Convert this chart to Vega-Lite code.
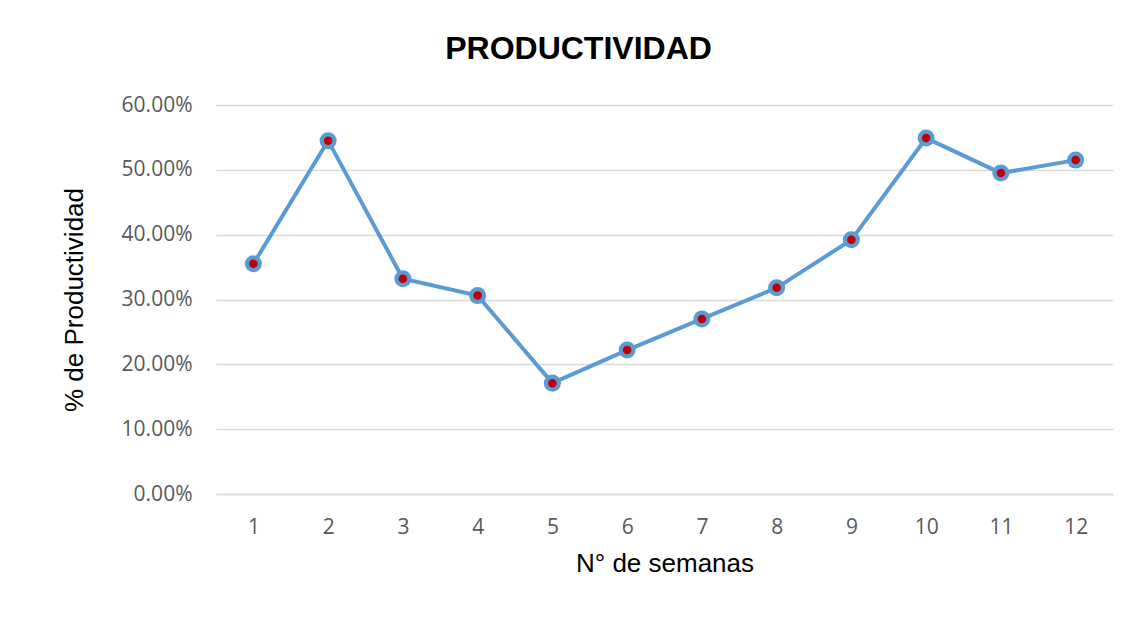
{
  "$schema": "https://vega.github.io/schema/vega-lite/v6.json",
  "autosize": "none",
  "width": 897,
  "height": 389,
  "padding": {"left": 216, "top": 105, "right": 24, "bottom": 126},
  "background": "white",
  "config": {"view": {"stroke": null}, "font": "Liberation Sans"},
  "title": {"text": "PRODUCTIVIDAD", "fontSize": 32, "fontWeight": "bold", "color": "#000000", "font": "Liberation Sans", "offset": 28, "dx": -86, "anchor": "middle"},
  "data": {"values": [
    {"semana": "1", "productividad": 0.355},
    {"semana": "2", "productividad": 0.545},
    {"semana": "3", "productividad": 0.332},
    {"semana": "4", "productividad": 0.306},
    {"semana": "5", "productividad": 0.171},
    {"semana": "6", "productividad": 0.222},
    {"semana": "7", "productividad": 0.270},
    {"semana": "8", "productividad": 0.318},
    {"semana": "9", "productividad": 0.392},
    {"semana": "10", "productividad": 0.549},
    {"semana": "11", "productividad": 0.495},
    {"semana": "12", "productividad": 0.515}
  ]},
  "encoding": {
    "x": {"field": "semana", "type": "ordinal", "sort": null,
      "scale": {"type": "point", "padding": 0.5},
      "axis": {"title": "N° de semanas", "labelAngle": 0, "labelFontSize": 21, "labelColor": "#595959", "labelFont": "Open Sans", "labelPadding": 22, "ticks": false, "domain": true, "domainColor": "#d9d9d9", "domainWidth": 1.5, "grid": false, "titleFontSize": 26, "titleFontWeight": "normal", "titleColor": "#000000", "titlePadding": 13}},
    "y": {"field": "productividad", "type": "quantitative",
      "scale": {"domain": [0, 0.6], "nice": false},
      "axis": {"title": "% de Productividad", "format": ".2%", "values": [0, 0.1, 0.2, 0.3, 0.4, 0.5, 0.6], "labelFontSize": 21, "labelColor": "#595959", "labelFont": "Open Sans", "labelPadding": 24, "ticks": false, "domain": false, "grid": true, "gridColor": "#d9d9d9", "gridWidth": 1.5, "titleFontSize": 26, "titleFontWeight": "normal", "titleColor": "#000000", "titlePadding": 34}}
  },
  "layer": [
    {"mark": {"type": "line", "color": "#5b9bd5", "strokeWidth": 4}},
    {"mark": {"type": "point", "filled": true, "color": "#5b9bd5", "size": 290, "opacity": 1}},
    {"mark": {"type": "point", "filled": true, "color": "#c00000", "size": 72, "opacity": 1}}
  ]
}
